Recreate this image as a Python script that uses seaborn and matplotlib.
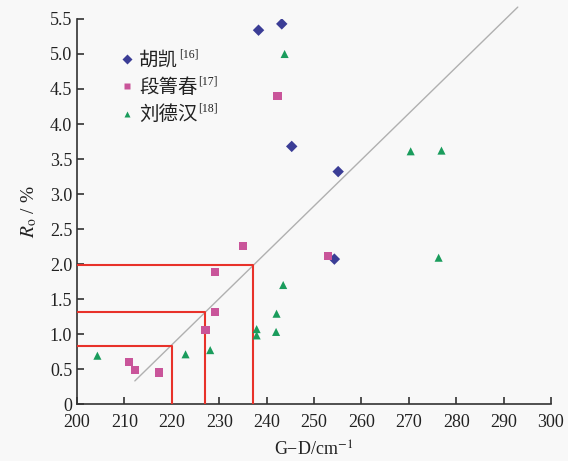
import seaborn as sns
import matplotlib.pyplot as plt
import pandas as pd
import numpy as np

# data
hu_x = [238.3, 243.2, 245.3, 255.1, 254.3]
hu_y = [5.34, 5.43, 3.68, 3.32, 2.07]
duan_x = [242.3, 235.0, 229.2, 229.2, 227.1, 211.0, 212.2, 217.3, 253.0]
duan_y = [4.40, 2.26, 1.88, 1.32, 1.06, 0.60, 0.49, 0.45, 2.12]
liu_x = [204.3, 222.9, 228.1, 237.9, 237.9, 242.0, 242.1, 243.5, 243.8, 270.4, 276.9, 276.3]
liu_y = [0.69, 0.71, 0.77, 1.07, 0.98, 1.03, 1.29, 1.70, 5.00, 3.61, 3.62, 2.09]

series = ["胡凯", "段箐春", "刘德汉"]
refs = ["[16]", "[17]", "[18]"]

# fitted line end points
fit_x = [212.2, 293.0]
fit_y = [0.33, 5.67]

# guide lines (G-D value -> Ro)
guide_x = [220.0, 227.1, 237.1]
guide_y = [0.83, 1.32, 1.99]

df = pd.DataFrame({
    "x": hu_x + duan_x + liu_x,
    "y": hu_y + duan_y + liu_y,
    "src": [series[0]] * len(hu_x) + [series[1]] * len(duan_x) + [series[2]] * len(liu_x),
})

sns.set_style("white")
plt.rcParams["font.family"] = ["Liberation Serif", "Noto Sans CJK SC"]
plt.rcParams["mathtext.fontset"] = "stix"

fig = plt.figure(figsize=(5.68, 4.61), dpi=100, facecolor="#f8f8f8")
ax = fig.add_axes([0.1356, 0.1236, 0.8344, 0.8352])
ax.set_facecolor("#f8f8f8")

sns.lineplot(x=fit_x, y=fit_y, ax=ax, color="#b0b0b0", linewidth=1.0, zorder=2)
for ln in ax.get_lines():
    ln.set_clip_on(False)

for gx, gy in zip(guide_x, guide_y):
    ax.plot([200, gx, gx], [gy, gy, 0], color="#e8322a", linewidth=1.5, zorder=3)

sns.scatterplot(data=df, x="x", y="y", hue="src", style="src", ax=ax,
                palette={series[0]: "#3b3d96", series[1]: "#c9559a", series[2]: "#1a9c5c"},
                markers={series[0]: "D", series[1]: "s", series[2]: "^"},
                s=34, edgecolor="none", zorder=4)

ax.set_xlim(200, 300)
ax.set_ylim(0, 5.5)
ax.set_xticks(np.arange(200, 301, 10))
ax.set_yticks(np.arange(0, 5.51, 0.5))
ax.set_yticklabels(["0"] + [f"{v:.1f}" for v in np.arange(0.5, 5.51, 0.5)])
ax.tick_params(direction="in", length=5, width=1.2, labelsize=13, colors="#333333",
               left=True, bottom=True, labelcolor="#222222")
ax.tick_params(axis="x", pad=7)
for side in ["top", "right"]:
    ax.spines[side].set_visible(False)
for side in ["left", "bottom"]:
    ax.spines[side].set_color("#333333")
    ax.spines[side].set_linewidth(1.2)

ax.set_xlabel("G−D/cm$^{-1}$", fontsize=13, color="#222222", labelpad=7)
ax.set_ylabel("$R_\\mathrm{o}$ / %", fontsize=14, color="#222222", labelpad=8)

leg = ax.legend(loc="upper left", bbox_to_anchor=(0.065, 0.935), frameon=False,
                fontsize=14, handletextpad=0.0, handlelength=1.2, labelspacing=0.45,
                borderaxespad=0, markerscale=0.8)
for t in leg.get_texts():
    t.set_color("#222222")

# superscript reference marks after each legend label
fig.canvas.draw()
renderer = fig.canvas.get_renderer()
inv = fig.transFigure.inverted()
for t, r in zip(leg.get_texts(), refs):
    bb = t.get_window_extent(renderer)
    x0, y0 = inv.transform((bb.x1 + 1, bb.y1 - 9))
    fig.text(x0, y0, r, fontsize=8.5, color="#222222", ha="left", va="bottom")

fig.savefig("out.png", dpi=100, facecolor=fig.get_facecolor())
